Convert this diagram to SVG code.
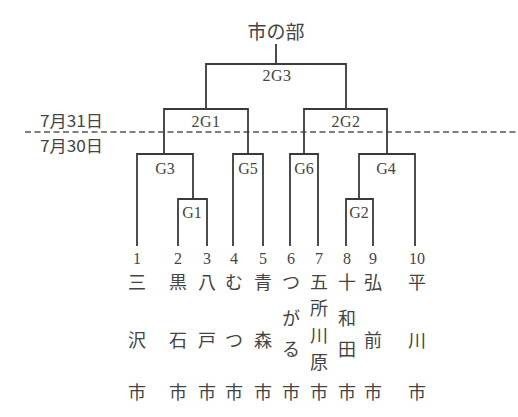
<svg xmlns="http://www.w3.org/2000/svg" width="518" height="417" viewBox="0 0 518 417">
<style>
.ln{stroke:#3a3a3a;stroke-width:1.8;fill:none;stroke-linecap:square}
.dash{stroke:#555;stroke-width:1.5;stroke-dasharray:6 3.5;fill:none}
.lbl{font-family:"Liberation Serif","Noto Sans CJK JP",serif;font-size:16px;fill:#444;text-anchor:middle}
.num{font-family:"Liberation Serif","Noto Sans CJK JP",serif;font-size:16px;fill:#444;text-anchor:middle}
.jp{font-family:"Noto Sans CJK JP",sans-serif;font-size:18px;fill:#444;text-anchor:middle}
.date{font-family:"Noto Sans CJK JP",sans-serif;font-size:16px;fill:#444}
</style>
<rect width="518" height="417" fill="#fff"/>
<g id="title"><text class="jp" x="276" y="39" style="font-size:19px">市の部</text></g>
<g id="dates">
<text class="date" x="40" y="127" textLength="63" lengthAdjust="spacingAndGlyphs">7月31日</text>
<text class="date" x="40" y="152" textLength="63" lengthAdjust="spacingAndGlyphs">7月30日</text>
<line class="dash" x1="25" y1="132" x2="518" y2="132"/>
</g>
<g id="connectors">
<path class="ln" d="M276 45V64M206 109V64H346V109"/>
<path class="ln" d="M164 154V109H248V154"/>
<path class="ln" d="M304 154V109H387V154"/>
<path class="ln" d="M137 245V154H193V199"/>
<path class="ln" d="M178 245V199H207V245"/>
<path class="ln" d="M233 245V154H263V245"/>
<path class="ln" d="M290 245V154H318V245"/>
<path class="ln" d="M359 199V154H415V245"/>
<path class="ln" d="M346 245V199H373V245"/>
</g>
<g id="match-labels">
<text class="lbl" x="277" y="81" letter-spacing="0.5">2G3</text>
<text class="lbl" x="206" y="127" letter-spacing="0.5">2G1</text>
<text class="lbl" x="346" y="127" letter-spacing="0.5">2G2</text>
<text class="lbl" x="165" y="174">G3</text>
<text class="lbl" x="248" y="174">G5</text>
<text class="lbl" x="304" y="174">G6</text>
<text class="lbl" x="386" y="174">G4</text>
<text class="lbl" x="192" y="218">G1</text>
<text class="lbl" x="359" y="218">G2</text>
</g>
<g id="team1"><text class="num" x="137" y="264">1</text><text class="jp" x="137" y="289">三</text><text class="jp" x="137" y="347">沢</text><text class="jp" x="137" y="399">市</text></g>
<g id="team2"><text class="num" x="178" y="264">2</text><text class="jp" x="178" y="289">黒</text><text class="jp" x="178" y="347">石</text><text class="jp" x="178" y="399">市</text></g>
<g id="team3"><text class="num" x="207" y="264">3</text><text class="jp" x="207" y="289">八</text><text class="jp" x="207" y="347">戸</text><text class="jp" x="207" y="399">市</text></g>
<g id="team4"><text class="num" x="234" y="264">4</text><text class="jp" x="234" y="289">む</text><text class="jp" x="234" y="347">つ</text><text class="jp" x="234" y="399">市</text></g>
<g id="team5"><text class="num" x="263" y="264">5</text><text class="jp" x="263" y="289">青</text><text class="jp" x="263" y="347">森</text><text class="jp" x="263" y="399">市</text></g>
<g id="team6"><text class="num" x="291" y="264">6</text><text class="jp" x="291" y="289">つ</text><text class="jp" x="291" y="325">が</text><text class="jp" x="291" y="356">る</text><text class="jp" x="291" y="399">市</text></g>
<g id="team7"><text class="num" x="319" y="264">7</text><text class="jp" x="319" y="289">五</text><text class="jp" x="319" y="315">所</text><text class="jp" x="319" y="342">川</text><text class="jp" x="319" y="369">原</text><text class="jp" x="319" y="399">市</text></g>
<g id="team8"><text class="num" x="347" y="264">8</text><text class="jp" x="347" y="289">十</text><text class="jp" x="347" y="325">和</text><text class="jp" x="347" y="356">田</text><text class="jp" x="347" y="399">市</text></g>
<g id="team9"><text class="num" x="373" y="264">9</text><text class="jp" x="373" y="289">弘</text><text class="jp" x="373" y="347">前</text><text class="jp" x="373" y="399">市</text></g>
<g id="team10"><text class="num" x="417" y="264">10</text><text class="jp" x="417" y="289">平</text><text class="jp" x="417" y="347">川</text><text class="jp" x="417" y="399">市</text></g>
</svg>
